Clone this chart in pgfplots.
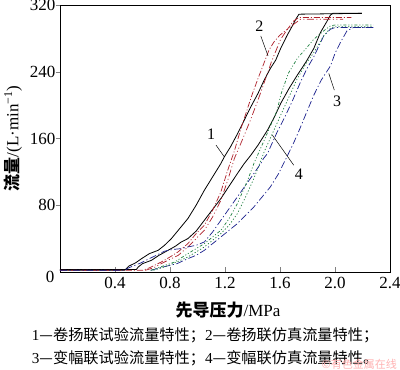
\documentclass[border=0pt]{standalone}
\usepackage{pgfplots}
\pgfplotsset{compat=1.18}
\usepackage{fontspec}
\setmainfont{Liberation Serif}
\newfontfamily\cjk{Noto Sans CJK SC}
\definecolor{cred}{rgb}{0.68,0.12,0.16}
\definecolor{cblue}{rgb}{0.10,0.12,0.55}
\definecolor{cgreen}{rgb}{0.12,0.50,0.25}
\begin{document}
\begin{tikzpicture}
\path[use as bounding box] (-60pt,-98pt) rectangle (340pt,272pt);
\begin{axis}[
  at={(0,0)}, anchor=south west,
  scale only axis, width=330pt, height=267pt,
  xmin=0, xmax=2.4, ymin=0, ymax=320,
  xtick={0.4,0.8,...,2.41}, ytick={80,160,240,320},
  xticklabels={0.4,0.8,1.2,1.6,2.0,2.4},
  xtick pos=bottom, ytick pos=left,
  tick align=inside, major tick length=5pt,
  ytick style={xshift=-4pt}, 
  /pgf/number format/assume math mode=true,
  tick label style={font=\fontsize{17}{17}\selectfont},
  xticklabel style={yshift=-2pt},
  yticklabel style={xshift=-1pt},
  axis line style={line width=0.8pt},
  clip=false,
]
% 1: test, winch (black)
\addplot[black, line width=0.8pt] coordinates {(0,2)(0.47,2)(0.50,7)(0.55,11)(0.593,16)(0.65,22)(0.714,26)(0.76,32)(0.81,40)(0.86,50)(0.93,64)(0.99,80)(1.05,98)(1.11,114)(1.17,130)(1.195,138)(1.24,150)(1.292,166)(1.34,182)(1.388,198)(1.44,214)(1.485,230)(1.53,244)(1.569,254)(1.605,268)(1.65,283)(1.69,295)(1.715,303)(1.738,309)(2.196,310)};
\addplot[black, line width=0.8pt] coordinates {(0,3)(0.555,3)(0.569,6)(0.60,10)(0.665,14)(0.72,20)(0.786,26)(0.84,31)(0.882,36)(0.93,40)(0.99,49)(1.05,62)(1.11,75)(1.17,88)(1.23,103)(1.29,118)(1.34,130)(1.388,140)(1.44,152)(1.509,170)(1.56,186)(1.605,202)(1.666,220)(1.726,236)(1.79,252)(1.846,268)(1.894,287)(1.94,300)(1.967,308)(1.985,310)(2.196,310)};
% 2: sim, winch (red)
\addplot[cred, line width=0.7pt, dash pattern=on 6pt off 2pt on 1pt off 2pt] coordinates {(0,2)(0.60,2)(0.65,5)(0.737,12)(0.80,18)(0.858,24)(0.93,34)(0.99,46)(1.05,56)(1.11,74)(1.17,96)(1.22,122)(1.27,146)(1.316,172)(1.36,194)(1.40,214)(1.445,234)(1.485,251)(1.52,266)(1.557,276)(1.60,284)(1.654,291)(1.70,301)(1.738,305)(2.12,305)};
\addplot[cred, line width=0.7pt, dash pattern=on 7pt off 2.5pt on 1pt off 2.5pt on 1pt off 2.5pt] coordinates {(0.62,2)(0.68,5)(0.76,12)(0.86,20)(0.93,30)(0.99,40)(1.05,50)(1.11,66)(1.17,86)(1.22,110)(1.268,136)(1.32,156)(1.38,180)(1.44,206)(1.50,234)(1.54,253)(1.605,279)(1.65,290)(1.70,297)(1.75,303)(2.06,303)};
% 3: test, luffing (blue)
\addplot[cblue, line width=0.7pt, dash pattern=on 7pt off 2.5pt on 1.2pt off 2.5pt] coordinates {(0,2)(0.47,2)(0.50,5)(0.544,8)(0.59,11)(0.65,16)(0.70,20)(0.761,25)(0.82,27)(0.88,28)(0.93,30)(0.99,32)(1.05,36)(1.11,48)(1.17,62)(1.23,76)(1.29,90)(1.35,104)(1.41,118)(1.46,130)(1.48,136)(1.509,142)(1.58,168)(1.63,184)(1.69,205)(1.75,228)(1.80,245)(1.846,258)(1.918,283)(1.967,291)(2.0,293)(2.28,293)};
\addplot[cblue, line width=0.7pt, dash pattern=on 7pt off 2.5pt on 1.2pt off 2.5pt] coordinates {(0.66,2)(0.75,6)(0.85,10)(0.93,16)(0.99,20)(1.05,26)(1.11,34)(1.17,42)(1.23,50)(1.29,58)(1.35,68)(1.41,78)(1.47,90)(1.53,102)(1.59,118)(1.65,138)(1.70,155)(1.74,170)(1.79,190)(1.846,212)(1.90,230)(1.967,247)(2.00,262)(2.039,275)(2.087,289)(2.135,293)(2.28,293)};
% 4: sim, luffing (green)
\addplot[cgreen, line width=0.7pt, dash pattern=on 3pt off 2pt on 1pt off 2pt on 1pt off 2pt] coordinates {(0.66,2)(0.73,6)(0.834,12)(0.93,22)(0.99,28)(1.05,34)(1.11,42)(1.17,50)(1.23,64)(1.29,82)(1.365,110)(1.41,130)(1.437,140)(1.48,156)(1.533,176)(1.58,194)(1.605,212)(1.66,238)(1.726,256)(1.79,268)(1.846,279)(1.918,289)(1.967,295)(2.0,296)(2.28,296)};
\addplot[cgreen, line width=0.7pt, dash pattern=on 1.2pt off 2pt] coordinates {(0.68,2)(0.76,6)(0.85,12)(0.93,18)(0.99,24)(1.05,30)(1.11,38)(1.17,46)(1.23,56)(1.29,70)(1.35,90)(1.41,112)(1.485,144)(1.545,166)(1.605,188)(1.666,210)(1.726,232)(1.79,250)(1.846,263)(1.918,283)(1.96,291)(1.99,294)(2.28,294)};
% curve numbers with leader lines
\draw[black, line width=0.5pt] (axis cs:1.135,152) -- (axis cs:1.195,138);
\node[font=\fontsize{16}{16}\selectfont] at (axis cs:1.10,165) {1};
\draw[black, line width=0.5pt] (axis cs:1.46,283) -- (axis cs:1.513,259);
\node[font=\fontsize{16}{16}\selectfont] at (axis cs:1.45,295) {2};
\draw[black, line width=0.5pt] (axis cs:1.995,218) -- (axis cs:1.955,238);
\node[font=\fontsize{16}{16}\selectfont] at (axis cs:2.015,205) {3};
\draw[black, line width=0.5pt] (axis cs:1.70,128) -- (axis cs:1.545,164);
\node[font=\fontsize{16}{16}\selectfont] at (axis cs:1.737,117) {4};
\node[font=\fontsize{17}{17}\selectfont, anchor=north east] at (axis cs:0,0) [xshift=-2pt, yshift=4pt] {0};
\end{axis}
% axis labels
\node[rotate=90, font=\fontsize{17}{17}\selectfont] at (-47pt,133.5pt) {{\cjk\bfseries 流量}/(L·min\textsuperscript{−1})};
\node[font=\fontsize{17}{17}\selectfont] at (168pt,-38pt) {{\cjk\bfseries 先导压力}/MPa};
% caption
\node[anchor=west, font=\fontsize{15.2}{15.2}\selectfont, inner sep=0pt] at (-28.3pt,-63pt) {1{\cjk —卷扬联试验流量特性；}2{\cjk —卷扬联仿真流量特性；}};
\node[anchor=west, font=\fontsize{15.2}{15.2}\selectfont, inner sep=0pt] at (-28.3pt,-86pt) {3{\cjk —变幅联试验流量特性；}4{\cjk —变幅联仿真流量特性。}};
\node[font=\fontsize{11}{11}\selectfont, text=red!30, inner sep=0pt, anchor=east] at (337pt,-92pt) {{\cjk ©有色金属在线}};
\end{tikzpicture}
\end{document}
